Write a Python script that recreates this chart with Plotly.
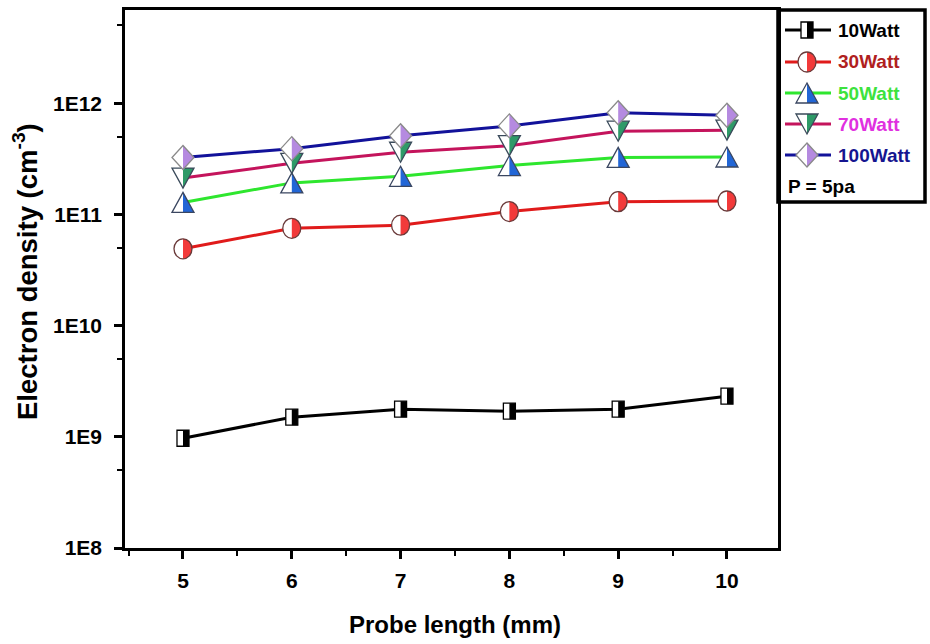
import plotly.graph_objects as go

# ---------------- data ----------------
probe_length = [5, 6, 7, 8, 9, 10]
series_names = ["10Watt", "30Watt", "50Watt", "70Watt", "100Watt"]
ne_10w = [9.7e8, 1.50e9, 1.77e9, 1.70e9, 1.77e9, 2.32e9]
ne_30w = [4.9e10, 7.5e10, 8.0e10, 1.06e11, 1.30e11, 1.32e11]
ne_50w = [1.28e11, 1.92e11, 2.20e11, 2.75e11, 3.25e11, 3.28e11]
ne_70w = [2.12e11, 2.88e11, 3.62e11, 4.15e11, 5.6e11, 5.72e11]
ne_100w = [3.25e11, 3.9e11, 5.1e11, 6.25e11, 8.2e11, 7.8e11]
ytick_vals = [1e8, 1e9, 1e10, 1e11, 1e12]
ytick_text = ["1E8", "1E9", "1E10", "1E11", "1E12"]
yminor_vals = [5e8, 5e9, 5e10, 5e11, 5e12]
xminor_vals = [4.5, 5.5, 6.5, 7.5, 8.5, 9.5]
pressure_label = "P = 5pa"

values = [ne_10w, ne_30w, ne_50w, ne_70w, ne_100w]

# ---------------- styles ----------------
line_colors = ["#000000", "#e01b1b", "#2ee62e", "#c4145c", "#12129a"]
fill_colors = ["#000000", "#f23a3a", "#2266d6", "#2e9a68", "#b58ae0"]
edge_colors = ["#000000", "#6a3a3a", "#3a4660", "#3a4a5a", "#8a8a8a"]
text_colors = ["#000000", "#b0201e", "#3de23d", "#e030e0", "#151590"]
symbols = ["square", "circle", "triangle-up", "triangle-down", "diamond"]

k = 0.5523


def paths(sym):
    """returns (full outline path, right-half path) in pixel offsets (y up)"""
    if sym == "square":
        w, h = 6, 8
        full = f"M{-w},{-h} L{w},{-h} L{w},{h} L{-w},{h} Z"
        half = f"M0,{-h} L{w},{-h} L{w},{h} L0,{h} Z"
    elif sym == "circle":
        rx, ry = 9, 10
        full = (f"M{rx},0 C{rx},{k*ry} {k*rx},{ry} 0,{ry} "
                f"C{-k*rx},{ry} {-rx},{k*ry} {-rx},0 "
                f"C{-rx},{-k*ry} {-k*rx},{-ry} 0,{-ry} "
                f"C{k*rx},{-ry} {rx},{-k*ry} {rx},0 Z")
        half = (f"M0,{ry} C{k*rx},{ry} {rx},{k*ry} {rx},0 "
                f"C{rx},{-k*ry} {k*rx},{-ry} 0,{-ry} Z")
    elif sym == "triangle-up":
        w, h = 11, 10
        full = f"M{-w},{-h} L{w},{-h} L0,{h} Z"
        half = f"M0,{-h} L{w},{-h} L0,{h} Z"
    elif sym == "triangle-down":
        w, h = 11, 10
        full = f"M{-w},{h} L{w},{h} L0,{-h} Z"
        half = f"M0,{h} L{w},{h} L0,{-h} Z"
    else:  # diamond
        w, h = 11, 12
        full = f"M0,{h} L{w},0 L0,{-h} L{-w},0 Z"
        half = f"M0,{h} L{w},0 L0,{-h} Z"
    return full, half


def marker_shapes(xa, ya, sym, fill, edge, xref, yref):
    full, half = paths(sym)
    base = dict(type="path", xref=xref, yref=yref, xsizemode="pixel",
                ysizemode="pixel", xanchor=xa, yanchor=ya, layer="above")
    return [
        dict(base, path=full, fillcolor="white", line=dict(width=0)),
        dict(base, path=half, fillcolor=fill, line=dict(width=0)),
        dict(base, path=full, fillcolor="rgba(0,0,0,0)",
             line=dict(color=edge, width=1.3)),
    ]


fig = go.Figure()
shapes = []
for name, vals, lc, fc, ec, sym in zip(series_names, values, line_colors,
                                       fill_colors, edge_colors, symbols):
    fig.add_trace(go.Scatter(x=probe_length, y=vals, mode="lines", name=name,
                             line=dict(color=lc, width=3), showlegend=False))
    for xv, yv in zip(probe_length, vals):
        shapes += marker_shapes(xv, yv, sym, fc, ec, "x", "y")

# ---------------- manual legend ----------------
L, R, T, B = 125, 778, 10, 548
W, H = R - L, B - T


def px(p):
    return (p - L) / W


def py(p):
    return (B - p) / H


shapes.append(dict(type="rect", xref="paper", yref="paper",
                   x0=px(778), x1=px(925), y0=py(202), y1=py(10),
                   line=dict(color="black", width=3.5), fillcolor="white",
                   layer="below"))
row_y = [30, 62, 93, 124, 155]
annotations = []
for i, (name, lc, fc, ec, tc, sym) in enumerate(zip(series_names, line_colors, fill_colors,
                                                     edge_colors, text_colors, symbols)):
    yy = row_y[i]
    shapes.append(dict(type="line", xref="paper", yref="paper",
                       x0=px(785), x1=px(831), y0=py(yy), y1=py(yy),
                       line=dict(color=lc, width=3), layer="above"))
    shapes += marker_shapes(px(807), py(yy), sym, fc, ec, "paper", "paper")
    annotations.append(dict(xref="paper", yref="paper", x=px(836), y=py(yy),
                            xanchor="left", yanchor="middle", showarrow=False,
                            text=name,
                            font=dict(family="Liberation Sans", size=19,
                                      color=tc, weight="bold")))
annotations.append(dict(xref="paper", yref="paper", x=px(786), y=py(186),
                        xanchor="left", yanchor="middle", showarrow=False,
                        text=pressure_label,
                        font=dict(family="Liberation Sans", size=19,
                                  color="black", weight="bold")))
# axis titles
annotations.append(dict(xref="paper", yref="paper", x=px(455), y=py(624),
                        xanchor="center", yanchor="middle", showarrow=False,
                        text="Probe length (mm)",
                        font=dict(family="Liberation Sans", size=24,
                                  color="black", weight="bold")))
annotations.append(dict(xref="paper", yref="paper", x=px(25), y=py(272),
                        xanchor="center", yanchor="middle", showarrow=False,
                        textangle=-90,
                        text="Electron density (cm<sup>-3</sup>)",
                        font=dict(family="Liberation Sans", size=27.5,
                                  color="black", weight="bold")))

fig.update_layout(
    width=930, height=644,
    margin=dict(l=L, r=930 - R, t=T, b=644 - B, autoexpand=False),
    paper_bgcolor="white", plot_bgcolor="white",
    shapes=shapes, annotations=annotations, showlegend=False,
    xaxis=dict(range=[4.467, 10.469], tickvals=probe_length,
               ticks="outside", ticklen=8, tickwidth=2.5, tickcolor="black",
               showline=True, linewidth=2.5, linecolor="black", mirror=True,
               showgrid=False, zeroline=False, ticklabelstandoff=4,
               tickfont=dict(family="Liberation Sans", size=21, color="black",
                             weight="bold"),
               minor=dict(tickvals=xminor_vals, ticks="outside", ticklen=5,
                          tickwidth=2, tickcolor="black", showgrid=False)),
    yaxis=dict(type="log", range=[8, 12.838], tickvals=ytick_vals,
               ticktext=ytick_text,
               ticks="outside", ticklen=8, tickwidth=2.5, tickcolor="black",
               showline=True, linewidth=2.5, linecolor="black", mirror=True,
               showgrid=False, zeroline=False, ticklabelstandoff=8,
               tickfont=dict(family="Liberation Sans", size=21, color="black",
                             weight="bold"),
               minor=dict(tickvals=yminor_vals, ticks="outside", ticklen=5,
                          tickwidth=2, tickcolor="black", showgrid=False)),
)

fig.write_html("out.html")
